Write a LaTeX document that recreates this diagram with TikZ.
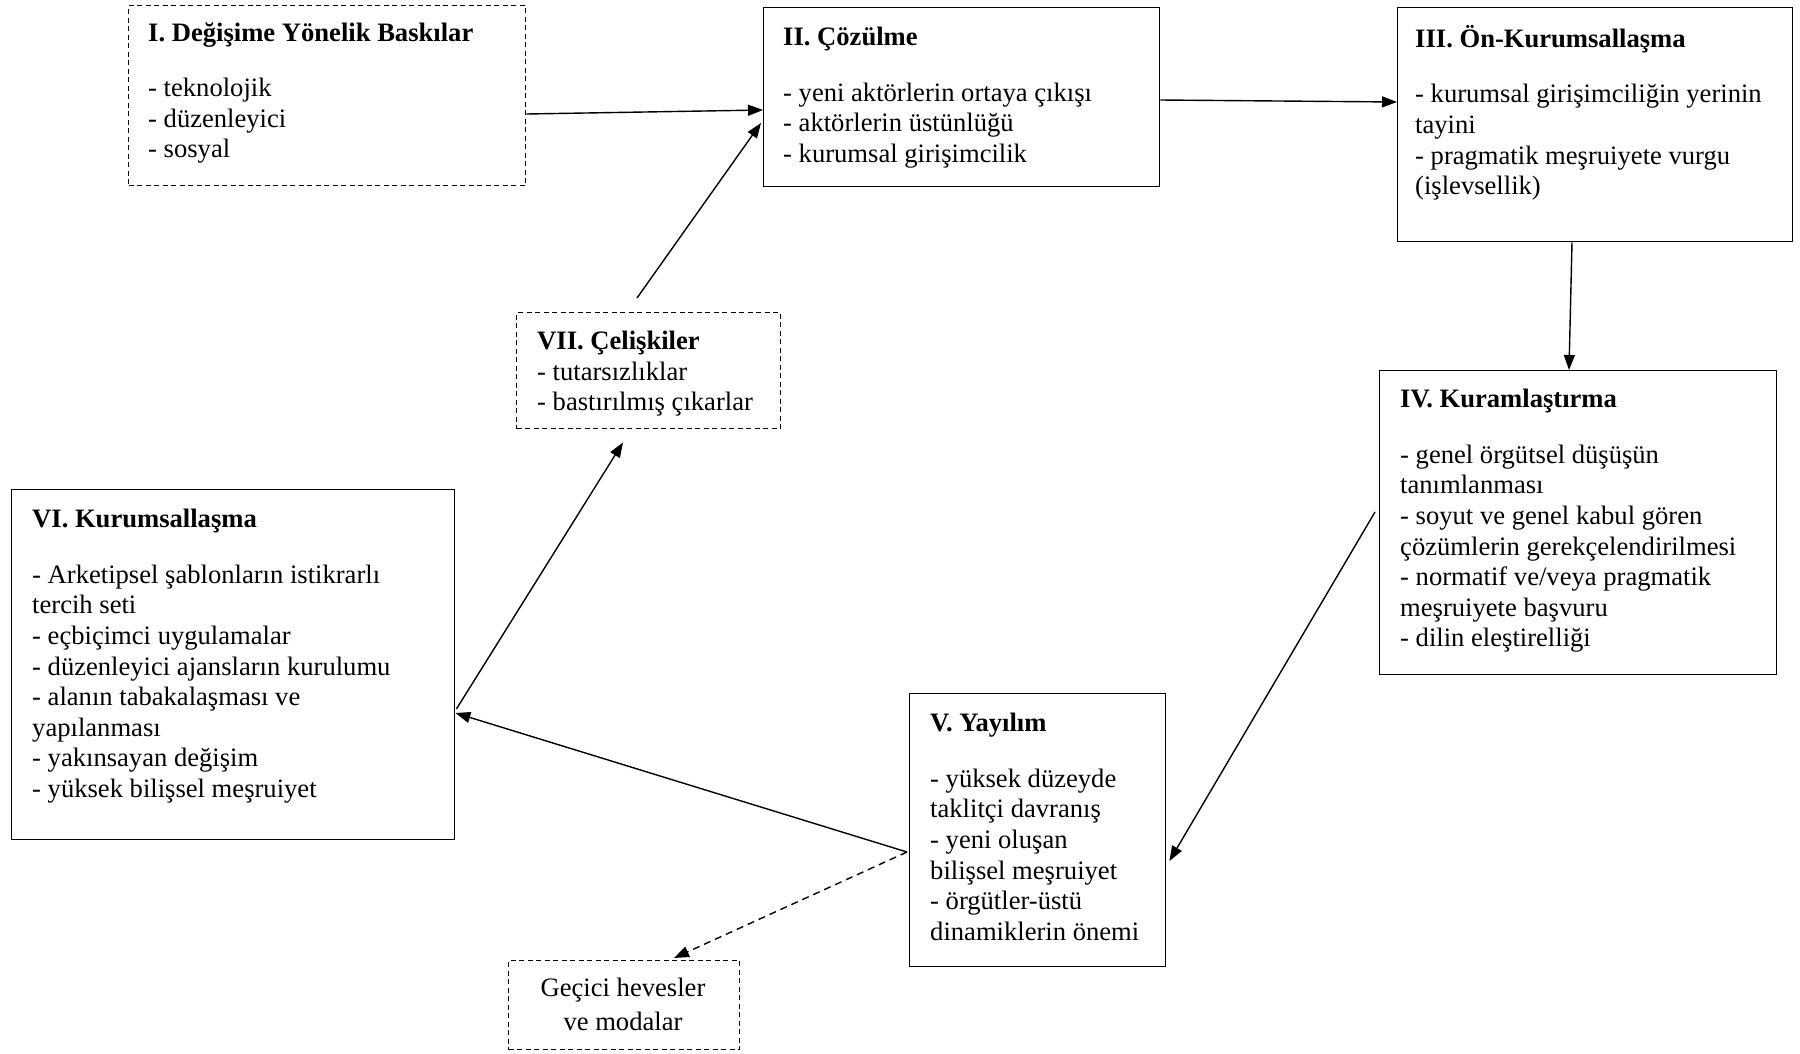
\documentclass[tikz,border=0pt]{standalone}
\usepackage{fontspec}
\setmainfont{Liberation Serif}
\usetikzlibrary{calc,arrows.meta}
\begin{document}
\begin{tikzpicture}[x=1pt,y=-1pt,
 box/.style={draw, line width=1.4pt, rectangle, inner sep=0pt, anchor=north west},
 dbox/.style={box, dash pattern=on 5pt off 3.5pt},
 txt/.style={anchor=north west, align=left, inner sep=0pt, font=\fontsize{26.6}{30.6}\selectfont,
   execute at begin node={\rule{0pt}{24pt}}},
 arr/.style={line width=1.4pt, -{Triangle[length=15pt,width=11pt]}},
 darr/.style={arr, dash pattern=on 7pt off 5pt}]
\useasboundingbox (0,0) rectangle (1800,1053);
% boxes
\node[dbox, minimum width=397pt, minimum height=180pt] (b1) at (128,5) {};
\node[box, minimum width=396pt, minimum height=179pt] (b2) at (763,7) {};
\node[box, minimum width=395pt, minimum height=234pt] (b3) at (1397,7) {};
\node[box, minimum width=397pt, minimum height=304pt] (b4) at (1379,370) {};
\node[box, minimum width=256pt, minimum height=273pt] (b5) at (909,693) {};
\node[box, minimum width=443pt, minimum height=350pt] (b6) at (11,489) {};
\node[dbox, minimum width=264pt, minimum height=116pt] (b7) at (516,312) {};
\node[dbox, minimum width=231pt, minimum height=89pt] (b8) at (508,960) {};
% texts
\node[txt] (t1) at (148,23) {\textbf{I. Değişime Yönelik Baskılar}\\[24pt]
- teknolojik\\ - düzenleyici\\ - sosyal};
\node[txt] (t2) at (783,27) {\textbf{II. Çözülme}\\[25pt]
- yeni aktörlerin ortaya çıkışı\\ - aktörlerin üstünlüğü\\ - kurumsal girişimcilik};
\node[txt] (t3) at (1415,25) {\textbf{III. Ön-Kurumsallaşma}\\[25pt]
- kurumsal girişimciliğin yerinin\\ tayini\\ - pragmatik meşruiyete vurgu\\ (işlevsellik)};
\node[txt] (t4) at (1400,389) {\textbf{IV. Kuramlaştırma}\\[25pt]
- genel örgütsel düşüşün\\ tanımlanması\\ - soyut ve genel kabul gören\\ çözümlerin gerekçelendirilmesi\\ - normatif ve/veya pragmatik\\ meşruiyete başvuru\\ - dilin eleştirelliği};
\node[txt] (t5) at (930,713) {\textbf{V. Yayılım}\\[25pt]
- yüksek düzeyde\\ taklitçi davranış\\ - yeni oluşan\\ bilişsel meşruiyet\\ - örgütler-üstü\\ dinamiklerin önemi};
\node[txt] (t6) at (32,509) {\textbf{VI. Kurumsallaşma}\\[25pt]
- Arketipsel şablonların istikrarlı\\ tercih seti\\ - eçbiçimci uygulamalar\\ - düzenleyici ajansların kurulumu\\ - alanın tabakalaşması ve\\ yapılanması\\ - yakınsayan değişim\\ - yüksek bilişsel meşruiyet};
\node[txt] (t7) at (537,331) {\textbf{VII. Çelişkiler}\\[0pt]
- tutarsızlıklar\\ - bastırılmış çıkarlar};
\node[txt, anchor=north, align=center] (t8) at (623,978) {Geçici hevesler\\[3pt] ve modalar};
% connectors
\draw[arr] ($(b1.north east)+(0,109)$) -- ($(b2.north west)+(0,103)$);
\draw[arr] ($(b7.north west)+(121,-14)$) -- ($(b2.north west)+(-2,116)$);
\draw[arr] ($(b2.north east)+(0,93)$) -- ($(b3.north west)+(0,95)$);
\draw[arr] ($(b3.south west)+(175,0)$) -- ($(b4.north west)+(190,0)$);
\draw[arr] ($(b4.north west)+(-4,142)$) -- ($(b5.north east)+(3,168)$);
\draw[arr] ($(b5.north west)+(-2,159)$) -- ($(b6.north east)+(0,224)$);
\draw[arr] ($(b6.north east)+(1,220)$) -- ($(b7.south west)+(107,13)$);
\draw[darr] ($(b5.north west)+(-2,159)$) -- ($(b8.north west)+(166,-2)$);
\end{tikzpicture}
\end{document}
